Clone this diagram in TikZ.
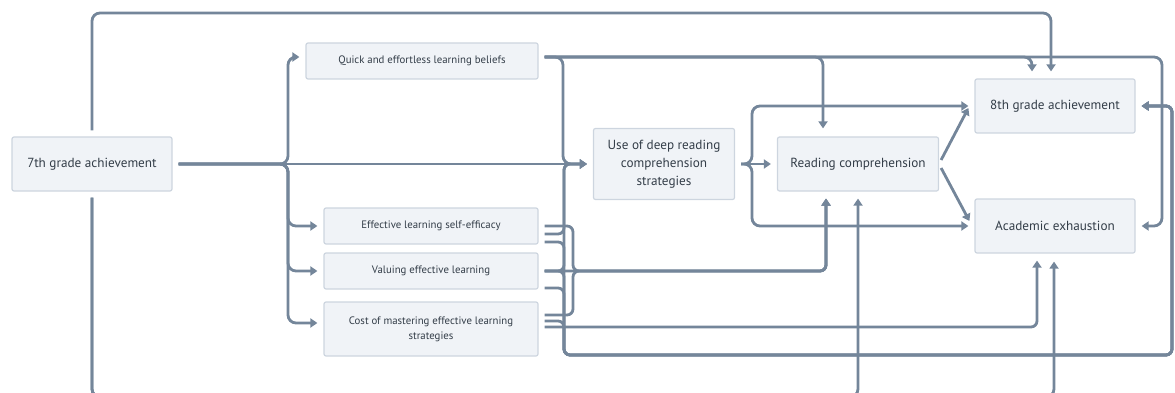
\documentclass[tikz,border=0pt]{standalone}
\usepackage{fontspec}
\setmainfont{PT Sans}
\usetikzlibrary{arrows.meta}
\definecolor{ln}{HTML}{74869A}
\definecolor{bx}{HTML}{F0F3F7}
\definecolor{bd}{HTML}{CDD5DF}
\definecolor{tx}{HTML}{333D48}
\newcommand\labfont{\fontsize{13.2}{18}\selectfont}
\newcommand\smlfont{\fontsize{10.8}{15}\selectfont}
\begin{document}
\begin{tikzpicture}[x=1pt,y=-1pt,
  box/.style={draw=bd,fill=bx,line width=1.2pt,rounded corners=2pt,text=tx,align=center,inner sep=0pt},
  conn/.style={draw=ln,line width=2.8pt,rounded corners=8pt},
  arr/.style={conn,-{Triangle[width=9pt,length=7pt]}},
  sarr/.style={arr,rounded corners=6pt}]
\useasboundingbox (0,0) rectangle (1175,393);
\clip (0,0) rectangle (1175,393);
% nodes
\node[box,minimum width=160pt,minimum height=54pt,font=\labfont] (a7) at (92,164) {7th grade achievement};
\node[box,minimum width=232pt,minimum height=36pt,font=\smlfont] (qe) at (422,61) {Quick and effortless learning beliefs};
\node[box,minimum width=214pt,minimum height=36pt,font=\smlfont] (se) at (431,226) {Effective learning self-efficacy};
\node[box,minimum width=214pt,minimum height=36pt,font=\smlfont] (ve) at (431,271) {Valuing effective learning};
\node[box,minimum width=214pt,minimum height=54pt,font=\smlfont] (cm) at (431,329) {Cost of mastering effective learning\\strategies};
\node[box,minimum width=141pt,minimum height=71pt,font=\labfont] (ud) at (664,164) {Use of deep reading\\comprehension\\strategies};
\node[box,minimum width=161pt,minimum height=54pt,font=\labfont] (rc) at (858,164) {Reading comprehension};
\node[box,minimum width=160pt,minimum height=54pt,font=\labfont] (a8) at (1055,106) {8th grade achievement};
\node[box,minimum width=160pt,minimum height=54pt,font=\labfont] (ae) at (1055,226) {Academic exhaustion};
% 7th grade achievement
\draw[arr] ([yshift=6pt]a7.north) -- (92,13) -- (1051,13) -- ([xshift=-4pt,yshift=7pt]a8.north);
\draw[arr] ([yshift=-6pt]a7.south) -- (92,397) -- (858,397) -- ([yshift=-7pt]rc.south);
\draw[arr] ([yshift=-6pt]a7.south) -- (92,397) -- (1054,397) -- ([xshift=-1pt,yshift=-8pt]ae.south);
\draw[arr] ([xshift=6pt]a7.east) -- ([xshift=-6pt]ud.west);
\draw[arr] ([xshift=6pt]a7.east) -- (288,164) -- (288,57) -- ([xshift=-6pt,yshift=4pt]qe.west);
\draw[arr] ([xshift=6pt]a7.east) -- (288,164) -- (288,226) -- ([xshift=-6pt]se.west);
\draw[arr] ([xshift=6pt]a7.east) -- (288,164) -- (288,271) -- ([xshift=-6pt]ve.west);
\draw[arr] ([xshift=6pt]a7.east) -- (288,164) -- (288,323) -- ([xshift=-6pt,yshift=6pt]cm.west);
% quick and effortless
\draw[arr] ([xshift=6pt,yshift=4pt]qe.east) -- (563,57) -- (563,164) -- ([xshift=-6pt]ud.west);
\draw[arr] ([xshift=6pt,yshift=4pt]qe.east) -- (823,57) -- ([xshift=-35pt,yshift=8pt]rc.north);
\draw[arr] ([xshift=6pt,yshift=4pt]qe.east) -- (1032,57) -- ([xshift=-23pt,yshift=7pt]a8.north);
\draw[arr] ([xshift=6pt,yshift=4pt]qe.east) -- (1162,57) -- (1162,226) -- ([xshift=6pt]ae.east);
% use of deep reading
\draw[arr] ([xshift=6pt]ud.east) -- ([xshift=-6pt]rc.west);
\draw[arr] ([xshift=6pt]ud.east) -- (752,164) -- (752,106) -- ([xshift=-6pt]a8.west);
\draw[arr] ([xshift=6pt]ud.east) -- (752,164) -- (752,226) -- ([xshift=-6pt]ae.west);
% reading comprehension
\draw[arr,rounded corners=0pt] ([xshift=2pt,yshift=4pt]rc.east) -- ([xshift=-6pt,yshift=-2pt]a8.west);
\draw[arr,rounded corners=0pt] ([xshift=2pt,yshift=-4pt]rc.east) -- ([xshift=-5pt,yshift=5pt]ae.west);
% self-efficacy
\draw[sarr] ([xshift=6pt]se.east) -- (573,226) -- (573,271) -- (826,271) -- ([xshift=-32pt,yshift=-7pt]rc.south);
\draw[sarr] ([xshift=6pt,yshift=-8pt]se.east) -- (564,234) -- (564,164) -- ([xshift=-6pt]ud.west);
\draw[sarr] ([xshift=6pt,yshift=-16pt]se.east) -- (564,242) -- (564,355) -- (1172,355) -- (1172,106) -- ([xshift=6pt]a8.east);
% valuing
\draw[sarr] ([xshift=6pt]ve.east) -- (826,271) -- ([xshift=-32pt,yshift=-7pt]rc.south);
\draw[sarr] ([xshift=6pt]ve.east) -- (564,271) -- (564,164) -- ([xshift=-6pt]ud.west);
\draw[sarr] ([xshift=6pt]ve.east) -- (564,271) -- (564,355) -- (1172,355) -- (1172,106) -- ([xshift=6pt]a8.east);
\draw[sarr] ([xshift=6pt,yshift=-17pt]ve.east) -- (564,288) -- (564,355) -- (1172,355) -- (1172,106) -- ([xshift=6pt]a8.east);
% cost
\draw[sarr] ([xshift=6pt,yshift=14pt]cm.east) -- (573,315) -- (573,271) -- (826,271) -- ([xshift=-32pt,yshift=-7pt]rc.south);
\draw[sarr] ([xshift=6pt,yshift=8pt]cm.east) -- (564,321) -- (564,355) -- (1172,355) -- (1172,106) -- ([xshift=6pt]a8.east);
\draw[sarr] ([xshift=6pt,yshift=2pt]cm.east) -- (1037,327) -- ([xshift=-18pt,yshift=-7pt]ae.south);
\end{tikzpicture}
\end{document}
